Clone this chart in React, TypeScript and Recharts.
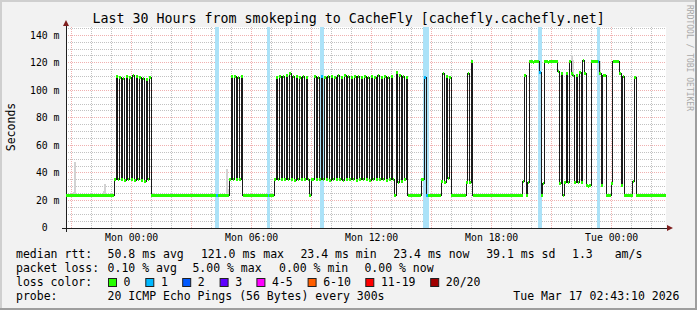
import React from "react";
import {
  ComposedChart,
  Line,
  Area,
  Bar,
  XAxis,
  YAxis,
  CartesianGrid,
  ReferenceDot,
} from "recharts";

const MONO = '"DejaVu Sans Mono", monospace';

// median rtt (ms), one value per 5 min step starting Sun 20:45
const medianMs: number[] = [
  // i0-28
  23.4, 23.4, 23.4, 23.4, 23.4, 23.4, 23.4, 23.4, 23.4, 23.4,
  23.4, 23.4, 23.4, 23.4, 23.4, 23.4, 23.4, 23.4, 23.4, 23.4,
  23.4, 23.4, 23.4, 23.4, 23.4, 23.4, 23.4, 23.4, 23.4,
  // i29-50
  35,
  110, 35, 109.5, 35.5, 108.5, 34.5, 110, 35, 109, 35.5,
  110.5, 34.5, 110, 35, 109.5, 34.5, 108.5, 34, 108, 35, 109,
  // i51-97
  23.4, 23.4, 23.4, 23.4, 23.4, 23.4, 23.4, 23.4, 23.4, 23.4,
  23.4, 23.4, 23.4, 23.4, 23.4, 23.4, 23.4, 23.4, 23.4, 23.4,
  23.4, 23.4, 23.4, 23.4, 23.4, 23.4, 23.4, 23.4, 23.4, 23.4,
  23.4, 23.4, 23.4, 23.4, 23.4, 23.4, 23.4, 23.4, 23.4, 23.4,
  23.4, 23.4, 23.4, 23.4, 23.4, 23.4, 23.4,
  // i98-105
  35, 110, 35, 110, 35.5, 109.5, 35, 110,
  // i106-124
  23.4, 23.4, 23.4, 23.4, 23.4, 23.4, 23.4, 23.4, 23.4, 23.4,
  23.4, 23.4, 23.4, 23.4, 23.4, 23.4, 23.4, 23.4, 23.4,
  // i125-144
  35,
  109.5, 35, 110, 35.5, 110, 35, 111, 35, 112, 35.5,
  110, 34.5, 110, 35, 109.5, 35, 110, 35.5, 109.5,
  // i145-148
  35, 23.4, 35, 35,
  // i149-195
  110, 35, 109.5, 35, 110, 35.5, 109, 35, 110, 34.5,
  110, 35, 109.5, 35.5, 110.5, 35, 109, 34.5, 111, 35,
  110, 35.5, 109.5, 35, 110, 34.5, 110, 35, 109, 35.5,
  110, 35, 109.5, 34.5, 110, 35, 109, 35, 110.5, 35.5,
  109.5, 35, 110, 34.5, 109.5, 35, 110,
  // i196-204
  35, 23.4, 113, 33, 111, 34, 110, 35, 109,
  // i205-212
  23.4, 23.4, 23.4, 23.4, 23.4, 23.4, 23.4, 23.4,
  // i213-215
  35, 35, 109.5,
  // i216-224
  23.4, 23.4, 23.4, 23.4, 23.4, 23.4, 23.4, 23.4, 23.4,
  // i225-230
  34, 112, 33, 110, 36, 109.5,
  // i231-239
  23.4, 23.4, 23.4, 23.4, 23.4, 23.4, 23.4, 23.4, 23.4,
  // i240-243
  33, 112, 33, 121,
  // i244-273
  23.4, 23.4, 23.4, 23.4, 23.4, 23.4, 23.4, 23.4, 23.4, 23.4,
  23.4, 23.4, 23.4, 23.4, 23.4, 23.4, 23.4, 23.4, 23.4, 23.4,
  23.4, 23.4, 23.4, 23.4, 23.4, 23.4, 23.4, 23.4, 23.4, 23.4,
  // i274-286
  33.7, 110.7, 23.4, 33,
  121, 121, 120, 121, 121.2, 121,
  113, 23.4, 32,
  // i287-294
  121, 121, 120.5, 121, 121, 121.3, 121, 120.8,
  // i295-308
  113.6, 32.5, 112, 23.4, 33, 112, 33, 121, 112, 111, 33, 111, 33, 113,
  // i309-323
  33, 121.4, 112, 31, 30.5, 31,
  121, 121, 121, 121, 121,
  112, 31, 111, 111,
  // i324-341
  23.4, 23.4, 23.4, 32.4,
  121, 121, 121, 121,
  112, 31, 110,
  23.4, 23.4, 23.4, 23.4, 23.4,
  33.5, 109.2,
  // i342-359
  23.4, 23.4, 23.4, 23.4, 23.4, 23.4, 23.4, 23.4, 23.4, 23.4,
  23.4, 23.4, 23.4, 23.4, 23.4, 23.4, 23.4, 23.4,
];

// steps with 1/20 packet loss
const lossIdx = [90, 121, 153, 215, 216, 284, 319];

// smoke (spread of the 20 pings) where it is visible
const smokeIdx = [4, 5, 22, 23, 52, 53, 96, 97, 154, 215, 216, 283, 303, 304, 320, 339];
const smokeLo = [23.4, 23.4, 23.4, 23.4, 23.4, 23.4, 23.4, 23.4, 110, 109.5, 109.5, 121, 112, 111, 112, 23.4];
const smokeHi = [26, 48, 27, 32, 25.5, 25, 43, 28, 146, 146, 146, 146, 126, 122, 121, 27];

const timeTicks = [197, 557, 917, 1277, 1637];
const timeLabels = ["Mon 00:00", "Mon 06:00", "Mon 12:00", "Mon 18:00", "Tue 00:00"];
const msTicks = [0, 20, 40, 60, 80, 100, 120, 140];

const lossColors = ["#26ff00", "#00b8ff", "#0059ff", "#5e00ff", "#ff00ff", "#ff5e00", "#ff0000", "#a10000"];
const lossLabels = ["0", "1", "2", "3", "4-5", "6-10", "11-19", "20/20"];

const rows = medianMs.map((v, i) => {
  const s = smokeIdx.indexOf(i);
  const lost = lossIdx.includes(i);
  return {
    t: i * 5,
    median: v,
    smoke: s >= 0 ? [smokeLo[s], smokeHi[s]] : [v, v],
    loss: lost ? 1 : 0,
    lossBand: lost ? 146 : 0,
  };
});

const hourLines = Array.from({ length: 30 }, (_, k) => 17 + 60 * k);
const majorV = hourLines.filter((v) => (v - 17) % 180 === 0);
const minorV = hourLines.filter((v) => (v - 17) % 180 !== 0);
const fiveLines = Array.from({ length: 29 }, (_, k) => 5 * (k + 1));
const majorH = fiveLines.filter((v) => v % 20 === 0);
const minorH = fiveLines.filter((v) => v % 20 !== 0);

const SEG = 600 / 360;

function MedianSeg(props: any) {
  const { cx, cy, payload, index } = props;
  if (cx == null || cy == null) return <g key={`s${index}`} />;
  return (
    <rect
      key={`s${index}`}
      x={cx}
      y={cy - 1.5}
      width={SEG}
      height={3}
      fill={payload.loss ? "#00b8ff" : "#26ff00"}
    />
  );
}

// loss column: a bit wider than one step, like rrdtool draws it
function LossColumn(props: any) {
  const { x, y, width, height } = props;
  if (!height || height <= 0) return <g />;
  const cx = x + width / 2;
  return <rect x={cx - 1} y={y} width={3.7} height={height} fill="#abe2f8" />;
}

function ArrowUp(props: any) {
  const { cx, cy } = props;
  return (
    <g>
      <line x1={cx} y1={cy} x2={cx} y2={cy - 2} stroke="#1f1f1f" />
      <polygon
        points={`${cx - 3},${cy - 1} ${cx + 3},${cy - 1} ${cx},${cy - 7}`}
        fill="#7f1f1f"
        style={{ shapeRendering: "geometricPrecision" }}
      />
    </g>
  );
}

function ArrowRight(props: any) {
  const { cx, cy } = props;
  return (
    <g>
      <line x1={cx} y1={cy} x2={cx + 2} y2={cy} stroke="#1f1f1f" />
      <polygon
        points={`${cx + 1},${cy - 3} ${cx + 1},${cy + 3} ${cx + 7},${cy}`}
        fill="#7f1f1f"
        style={{ shapeRendering: "geometricPrecision" }}
      />
    </g>
  );
}

function Origin(props: any) {
  const { cx, cy } = props;
  return (
    <g>
      <line x1={cx - 4} y1={cy} x2={cx} y2={cy} stroke="#1f1f1f" />
      <line x1={cx} y1={cy} x2={cx} y2={cy + 4} stroke="#1f1f1f" />
    </g>
  );
}

const tickFont = { fontSize: 9.8, fill: "#000", fontFamily: MONO };

function Backdrop() {
  const row = (y: number) => ({ y, fontFamily: MONO, fontSize: 11.5, fill: "#000" });
  return (
    <svg width={697} height={310} style={{ position: "absolute", left: 0, top: 0 }}>
      <rect width={697} height={310} fill="#f2f2f2" />
      <rect x={0} y={0} width={697} height={2} fill="#cfcfcf" />
      <rect x={0} y={0} width={2} height={310} fill="#cfcfcf" />
      <rect x={0} y={308} width={697} height={2} fill="#9e9e9e" />
      <rect x={695} y={0} width={2} height={310} fill="#9e9e9e" />

      <text x={348.7} y={23} textAnchor="middle" fontFamily={MONO} fontSize={13.3} fill="#000">
        Last 30 Hours from smokeping to CacheFly [cachefly.cachefly.net]
      </text>
      <text
        transform="translate(15,127) rotate(-90)"
        textAnchor="middle"
        fontFamily={MONO}
        fontSize={11.5}
        fill="#000"
      >
        Seconds
      </text>
      <text
        transform="translate(687,5) rotate(90)"
        textAnchor="start"
        fontFamily={MONO}
        fontSize={8}
        fill="#a8a8a8"
      >
        RRDTOOL / TOBI OETIKER
      </text>

      <text x={16} {...row(258)}>median rtt:</text>
      <text x={107.6} {...row(258)}>50.8 ms avg</text>
      <text x={200.9} {...row(258)}>121.0 ms max</text>
      <text x={300.4} {...row(258)}>23.4 ms min</text>
      <text x={393.3} {...row(258)}>23.4 ms now</text>
      <text x={486.2} {...row(258)}>39.1 ms sd</text>
      <text x={572} {...row(258)}>1.3</text>
      <text x={614.7} {...row(258)}>am/s</text>

      <text x={16} {...row(272)}>packet loss:</text>
      <text x={107.6} {...row(272)}>0.10 % avg</text>
      <text x={192.4} {...row(272)}>5.00 % max</text>
      <text x={279} {...row(272)}>0.00 % min</text>
      <text x={364.4} {...row(272)}>0.00 % now</text>

      <text x={16} {...row(286)}>loss color:</text>
      {[108, 145.3, 182.2, 219.6, 256.4, 307.6, 365.3, 430.2].map((x, k) => (
        <g key={k}>
          <rect x={x + 0.5} y={278.5} width={8} height={8} fill={lossColors[k]} stroke="#202020" />
          <text x={x + 15.6} {...row(286)}>{lossLabels[k]}</text>
        </g>
      ))}

      <text x={16} {...row(299.7)}>probe:</text>
      <text x={107.6} {...row(299.7)}>20 ICMP Echo Pings (56 Bytes) every 300s</text>
      <text x={513.3} {...row(299.7)}>Tue Mar 17 02:43:10 2026</text>
    </svg>
  );
}

export default function App() {
  return (
    <div style={{ position: "absolute", left: 0, top: 0, width: 697, height: 310 }}>
      <style>{`.smk svg line, .smk svg path, .smk svg rect { shape-rendering: crispEdges; }`}</style>
      <Backdrop />
      <div className="smk" style={{ position: "absolute", left: 0, top: 0 }}>
        <ComposedChart
          width={697}
          height={310}
          data={rows}
          margin={{ top: 27, right: 31, bottom: 52, left: 0 }}
        >
          <CartesianGrid
            fill="#ffffff"
            stroke="rgba(143,143,143,0.55)"
            strokeDasharray="1 1"
            horizontalValues={minorH}
            verticalValues={minorV}
          />
          <CartesianGrid
            stroke="rgba(222,79,79,0.45)"
            strokeDasharray="1 1"
            horizontalValues={majorH}
            verticalValues={majorV}
          />
          <XAxis
            type="number"
            dataKey="t"
            domain={[0, 1800]}
            allowDataOverflow
            ticks={timeTicks}
            interval={0}
            tickFormatter={(v: number) => timeLabels[timeTicks.indexOf(v)]}
            height={30}
            tickLine={false}
            tickSize={0}
            tickMargin={6.3}
            axisLine={{ stroke: "#1f1f1f" }}
            tick={tickFont}
          />
          <YAxis
            type="number"
            domain={[0, 146]}
            allowDataOverflow
            ticks={msTicks}
            interval={0}
            tickFormatter={(v: number) => (v === 0 ? "0\u00a0\u00a0" : `${v} m`)}
            width={66}
            tickLine={false}
            tickSize={0}
            tickMargin={6.5}
            axisLine={{ stroke: "#1f1f1f" }}
            tick={tickFont}
          />
          <Bar
            dataKey="lossBand"
            barSize={2}
            shape={LossColumn}
            isAnimationActive={false}
          />
          <Area
            type="stepAfter"
            dataKey="smoke"
            stroke="none"
            fill="#d2d2d2"
            fillOpacity={1}
            isAnimationActive={false}
            activeDot={false}
          />
          <Line
            type="stepAfter"
            dataKey="median"
            stroke="#1a1a1a"
            strokeWidth={1}
            dot={false}
            activeDot={false}
            isAnimationActive={false}
          />
          <Line
            type="stepAfter"
            dataKey="median"
            stroke="none"
            dot={MedianSeg}
            activeDot={false}
            isAnimationActive={false}
          />
          <ReferenceDot x={0} y={146} r={0} shape={ArrowUp} ifOverflow="visible" />
          <ReferenceDot x={1800} y={0} r={0} shape={ArrowRight} ifOverflow="visible" />
          <ReferenceDot x={0} y={0} r={0} shape={Origin} ifOverflow="visible" />
        </ComposedChart>
      </div>
    </div>
  );
}
